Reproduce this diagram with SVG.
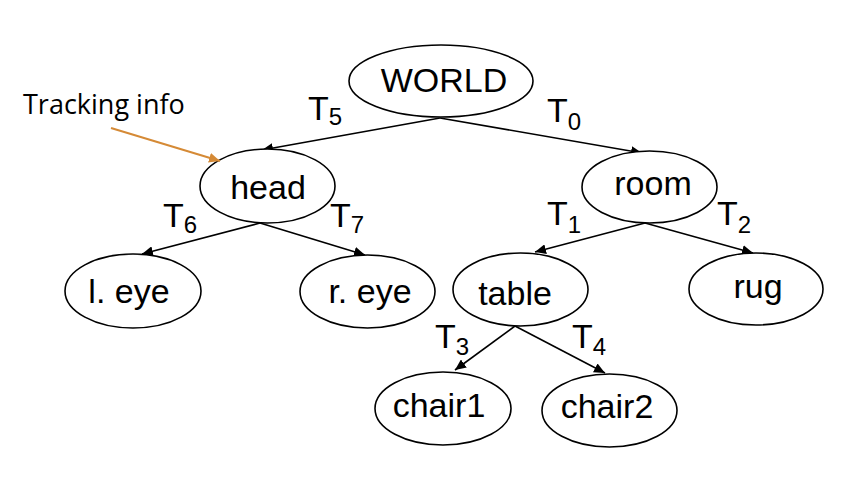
<svg xmlns="http://www.w3.org/2000/svg" width="842" height="492" viewBox="0 0 842 492">
<defs>
<marker id="ah" markerUnits="userSpaceOnUse" markerWidth="12" markerHeight="10" refX="11" refY="5" orient="auto"><path d="M0,0 L11,5 L0,10 Z" fill="#000"/></marker>
<marker id="oh" markerUnits="userSpaceOnUse" markerWidth="12" markerHeight="10" refX="11" refY="5" orient="auto"><path d="M0,0 L11,5 L0,10 Z" fill="#D58A36"/></marker>
<style>
.n ellipse{fill:#fff;stroke:#000;stroke-width:1.6}
.n text,.lbl{font-family:"Liberation Sans",Arial,sans-serif;font-size:34px;fill:#000}
.lbl tspan{font-size:24px}
.e line{stroke:#000;stroke-width:1.6;marker-end:url(#ah)}
.note{font-family:"Open Sans","Noto Sans",sans-serif;font-size:27px;fill:#000}
</style>
</defs>
<rect width="842" height="492" fill="#fff"/>
<g id="connectors" class="e">
<line x1="440" y1="118" x2="262" y2="150"/>
<line x1="440" y1="118" x2="642" y2="153"/>
<line x1="260" y1="223" x2="142" y2="254"/>
<line x1="260" y1="223" x2="365" y2="255"/>
<line x1="645" y1="223" x2="535" y2="252"/>
<line x1="645" y1="223" x2="753" y2="253"/>
<line x1="515" y1="326" x2="455" y2="370"/>
<line x1="515" y1="326" x2="605" y2="373"/>
</g>
<g id="edge-labels">
<text class="lbl" x="308" y="120">T<tspan dy="5">5</tspan></text>
<text class="lbl" x="547" y="122">T<tspan dy="8">0</tspan></text>
<text class="lbl" x="163" y="227">T<tspan dy="6">6</tspan></text>
<text class="lbl" x="330" y="227">T<tspan dy="6">7</tspan></text>
<text class="lbl" x="547" y="225">T<tspan dy="8">1</tspan></text>
<text class="lbl" x="717" y="225">T<tspan dy="8">2</tspan></text>
<text class="lbl" x="435" y="348">T<tspan dy="7">3</tspan></text>
<text class="lbl" x="572" y="348">T<tspan dy="7">4</tspan></text>
</g>
<g id="world" class="n"><ellipse cx="441" cy="81" rx="92" ry="36"/><text x="444" y="92" text-anchor="middle">WORLD</text></g>
<g id="head" class="n"><ellipse cx="267.5" cy="186" rx="67.5" ry="37"/><text x="268" y="199" text-anchor="middle">head</text></g>
<g id="room" class="n"><ellipse cx="649.5" cy="187" rx="67.5" ry="36"/><text x="653" y="195" text-anchor="middle">room</text></g>
<g id="leye" class="n"><ellipse cx="133" cy="291" rx="68" ry="37"/><text x="129" y="303" text-anchor="middle">l. eye</text></g>
<g id="reye" class="n"><ellipse cx="367.5" cy="291.5" rx="67.5" ry="36.5"/><text x="370" y="303" text-anchor="middle">r. eye</text></g>
<g id="table" class="n"><ellipse cx="520.5" cy="289.5" rx="67.5" ry="36.5"/><text x="515" y="305" text-anchor="middle">table</text></g>
<g id="rug" class="n"><ellipse cx="756" cy="289" rx="67" ry="36"/><text x="758" y="298" text-anchor="middle">rug</text></g>
<g id="chair1" class="n"><ellipse cx="443" cy="408.5" rx="68" ry="36.5"/><text x="439" y="417" text-anchor="middle">chair1</text></g>
<g id="chair2" class="n"><ellipse cx="609.5" cy="410.5" rx="67.5" ry="36.5"/><text x="607" y="418" text-anchor="middle">chair2</text></g>
<g id="tracking-note">
<text class="note" x="23" y="114">Tracking info</text>
<line x1="111" y1="128" x2="220" y2="161" stroke="#D58A36" stroke-width="2" marker-end="url(#oh)"/>
</g>
</svg>
